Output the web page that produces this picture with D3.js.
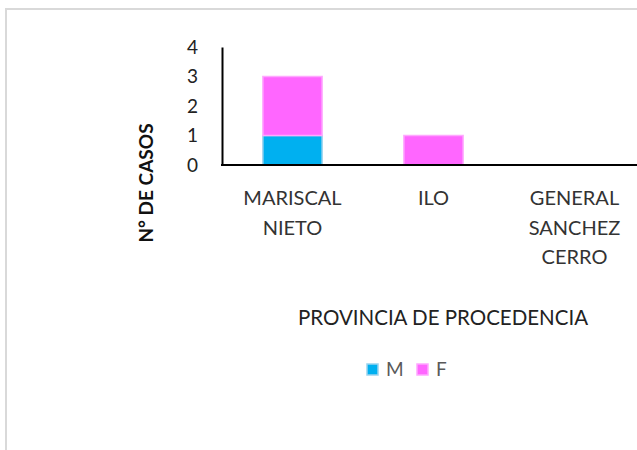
<!DOCTYPE html>
<html lang="es">
<head>
    <meta charset="UTF-8">
    <title>Casos por provincia de procedencia</title>
    <script src="https://cdnjs.cloudflare.com/ajax/libs/d3/7.8.5/d3.min.js"></script>
    <style>
        body { margin: 0; padding: 0; background: #fff; font-family: Lato, 'Open Sans', sans-serif; }
        #chart { width: 637px; height: 450px; }
    </style>
</head>
<body>
    <div id="chart"></div>
    <script>
        // Data
        const provincias = ["MARISCAL NIETO", "ILO", "GENERAL SANCHEZ CERRO"];
        const labelLines = [["MARISCAL", "NIETO"], ["ILO"], ["GENERAL", "SANCHEZ", "CERRO"]];
        const valoresM = [1, 0, 0];
        const valoresF = [2, 1, 0];
        const yTicks = [0, 1, 2, 3, 4];
        const series = [
            { key: "M", values: valoresM, fill: "#00B0F0", stroke: "#9BD3EE" },
            { key: "F", values: valoresF, fill: "#FF66FF", stroke: "#FFA8FF" }
        ];

        const width = 637, height = 450;
        const plot = { left: 222, right: 645, top: 47, bottom: 165 };

        const svg = d3.select("#chart").append("svg")
            .attr("width", width).attr("height", height);

        // chart frame (cropped on right and bottom)
        svg.append("rect")
            .attr("x", 6).attr("y", 9)
            .attr("width", 700).attr("height", 500)
            .attr("fill", "none").attr("stroke", "#d9d9d9").attr("stroke-width", 2);

        const x = d3.scaleBand().domain(provincias)
            .range([plot.left, plot.right]).paddingInner(0.58).paddingOuter(0.29);
        const y = d3.scaleLinear().domain([0, 4]).range([plot.bottom, plot.top]);

        // stacked bars
        const rows = provincias.map((p, i) => {
            const r = { provincia: p };
            series.forEach(s => r[s.key] = s.values[i]);
            return r;
        });
        const stacked = d3.stack().keys(series.map(s => s.key))(rows);

        stacked.forEach((layer, li) => {
            const s = series[li];
            svg.append("g").selectAll("rect")
                .data(layer.filter(d => d[1] > d[0]))
                .join("rect")
                .attr("x", d => x(d.data.provincia))
                .attr("y", d => y(d[1]))
                .attr("width", x.bandwidth())
                .attr("height", d => y(d[0]) - y(d[1]))
                .attr("fill", s.fill)
                .attr("stroke", s.stroke)
                .attr("stroke-width", 1.5);
        });

        // y axis
        const yAxis = svg.append("g")
            .attr("transform", `translate(${plot.left},0)`)
            .call(d3.axisLeft(y).tickValues(yTicks).tickFormat(d3.format("d")).tickSize(0).tickPadding(24));
        yAxis.select(".domain").attr("stroke", "#000").attr("stroke-width", 2);
        yAxis.selectAll("text").attr("font-size", 19).attr("fill", "#222")
            .attr("font-family", "Lato, 'Open Sans', sans-serif");

        // x axis
        svg.append("line")
            .attr("x1", plot.left - 1).attr("x2", width)
            .attr("y1", y(0)).attr("y2", y(0))
            .attr("stroke", "#000").attr("stroke-width", 2);

        const catLabels = svg.append("g").selectAll("text")
            .data(provincias)
            .join("text")
            .attr("text-anchor", "middle")
            .attr("font-size", 20)
            .attr("fill", "#333");
        catLabels.each(function (p, i) {
            d3.select(this).selectAll("tspan")
                .data(labelLines[i])
                .join("tspan")
                .attr("x", x(p) + x.bandwidth() / 2)
                .attr("y", (d, j) => 205 + j * 29.5)
                .text(d => d);
        });

        // axis titles
        svg.append("text")
            .attr("x", 443).attr("y", 325)
            .attr("text-anchor", "middle")
            .attr("font-size", 20.5).attr("fill", "#222")
            .text("PROVINCIA DE PROCEDENCIA");

        svg.append("text")
            .attr("transform", "translate(153,183) rotate(-90)")
            .attr("text-anchor", "middle")
            .attr("font-size", 19).attr("font-weight", "bold").attr("fill", "#111")
            .text("N° DE CASOS");

        // legend
        const legend = svg.append("g").selectAll("g")
            .data(series)
            .join("g")
            .attr("transform", (d, i) => `translate(${367 + i * 50},364)`);
        legend.append("rect")
            .attr("width", 11).attr("height", 11)
            .attr("fill", d => d.fill).attr("stroke", d => d.stroke).attr("stroke-width", 1.5);
        legend.append("text")
            .attr("x", 19).attr("y", 12)
            .attr("font-size", 19).attr("fill", "#595959")
            .text(d => d.key);
    </script>
</body>
</html>
